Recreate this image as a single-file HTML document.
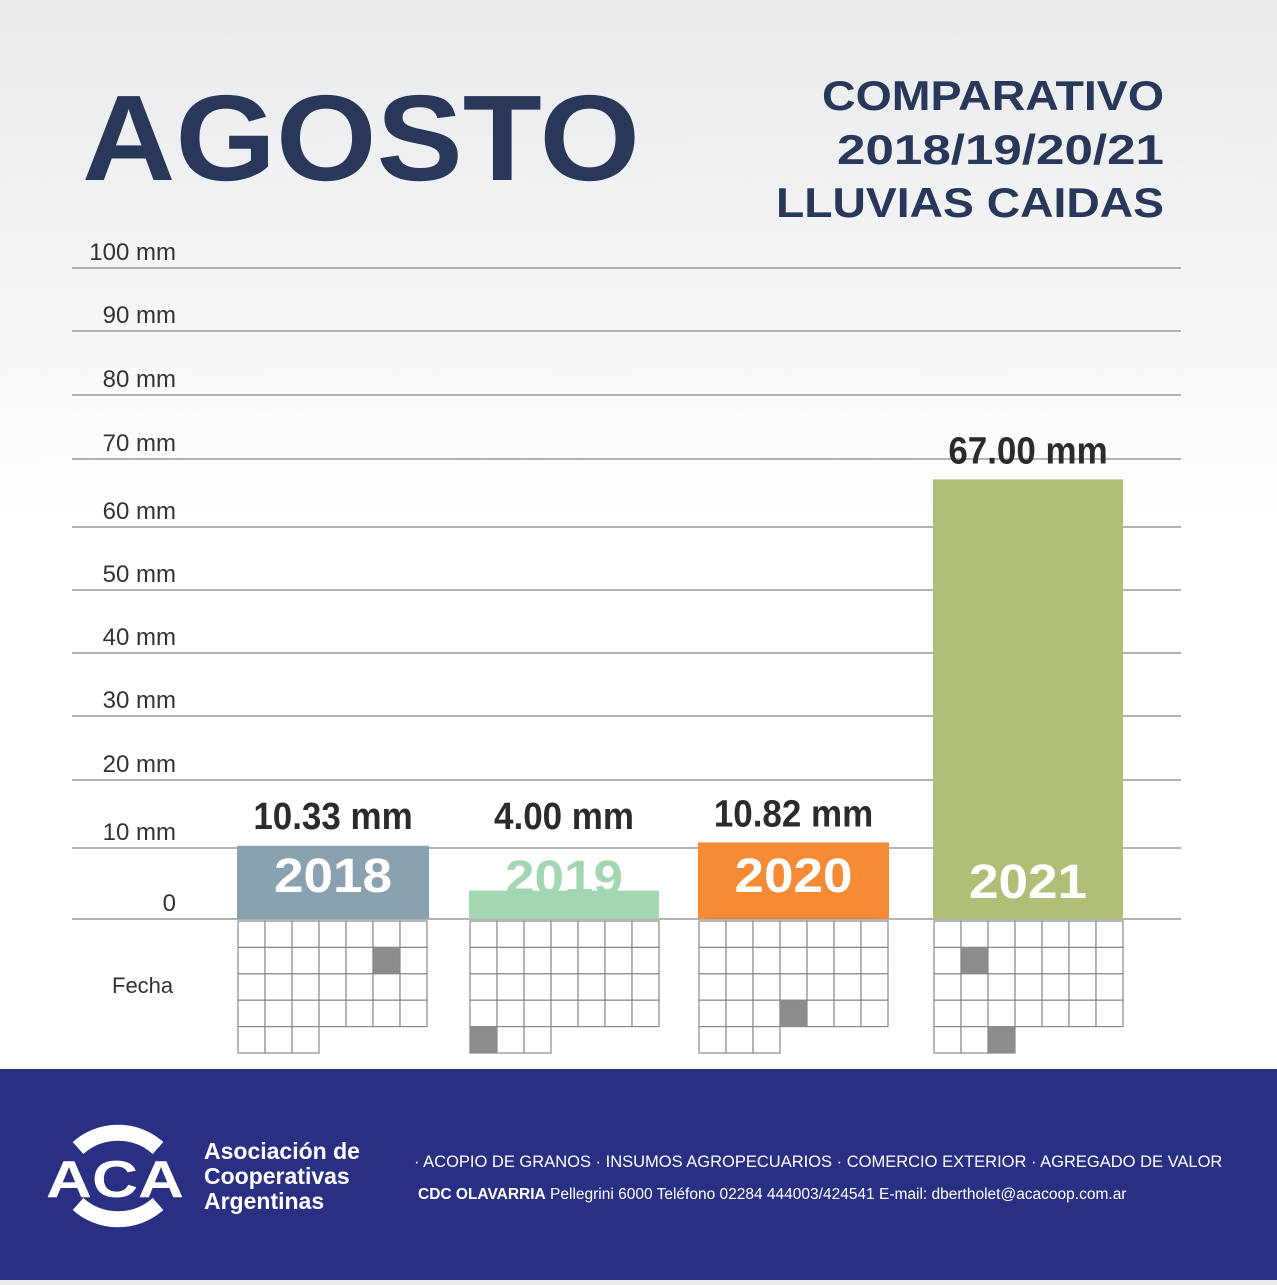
<!DOCTYPE html>
<html><head><meta charset="utf-8"><style>
html,body{margin:0;padding:0}
body{width:1277px;height:1280px;overflow:hidden;font-family:"Liberation Sans",sans-serif;background:linear-gradient(#e9eaec 0,#f6f6f7 300px,#fff 520px,#fff 100%)}
</style></head><body>
<svg id="chart" width="1277" height="1280" xmlns="http://www.w3.org/2000/svg">
<text x="82" y="180" font-family="Liberation Sans,sans-serif" font-weight="bold" font-size="122" fill="#28375a" textLength="558" lengthAdjust="spacingAndGlyphs">AGOSTO</text>
<g font-family="Liberation Sans,sans-serif" font-weight="bold" font-size="42" fill="#28375a">
<text x="822" y="110" textLength="342" lengthAdjust="spacingAndGlyphs">COMPARATIVO</text>
<text x="837" y="164" textLength="327" lengthAdjust="spacingAndGlyphs">2018/19/20/21</text>
<text x="776" y="217" textLength="388" lengthAdjust="spacingAndGlyphs">LLUVIAS CAIDAS</text>
</g>
<g id="grid"></g><g id="bars"></g><g id="cal"></g>
<text x="112" y="993" font-size="22" fill="#333">Fecha</text>
<rect x="0" y="1069" width="1277" height="211" fill="#292f83"/>
<g>
<path d="M78 1148 A60 60 0 0 1 158 1148" stroke="#fff" stroke-width="16" fill="none"/>
<path d="M78 1204 A60 60 0 0 0 158 1204" stroke="#fff" stroke-width="16" fill="none"/>
<text x="115" y="1197" font-size="52" font-weight="bold" fill="#fff" text-anchor="middle" textLength="138" lengthAdjust="spacingAndGlyphs">ACA</text>
</g>
<g font-size="23" font-weight="bold" fill="#fff">
<text x="204" y="1159">Asociación de</text><text x="204" y="1184">Cooperativas</text><text x="204" y="1209">Argentinas</text>
</g>
<text x="414" y="1167" font-size="16.5" fill="#fff">·  ACOPIO DE GRANOS  ·  INSUMOS AGROPECUARIOS  ·  COMERCIO EXTERIOR  ·  AGREGADO DE VALOR</text>
<text x="418" y="1199" font-size="15.5" fill="#fff"><tspan font-weight="bold">CDC OLAVARRIA</tspan> Pellegrini 6000 Teléfono 02284 444003/424541 E-mail: dbertholet@acacoop.com.ar</text>
</svg>
<script>
const tickValues=[0,10,20,30,40,50,60,70,80,90,100];
const tickLabels=["0","10 mm","20 mm","30 mm","40 mm","50 mm","60 mm","70 mm","80 mm","90 mm","100 mm"];
const years=["2018","2019","2020","2021"];
const rain=[10.33,4.00,10.82,67.00];
const valueLabels=["10.33 mm","4.00 mm","10.82 mm","67.00 mm"];
const rainDays=[[1,5],[4,0],[3,3],[1,1]];
const rainDays2=[null,null,null,[4,2]];
const NS="http://www.w3.org/2000/svg";
const tickY=[919,848,780,716,653,590,527,459,395,331,268];
function y(v){for(let i=0;i<tickValues.length-1;i++){if(v<=tickValues[i+1]){const t=(v-tickValues[i])/(tickValues[i+1]-tickValues[i]);return tickY[i]+t*(tickY[i+1]-tickY[i]);}}return tickY[tickY.length-1];}
const barX=[237,469,698,933],barW=[192,190,191,190];
const colors=["#8aa2b0","#a3d6b3","#f68b35","#b0bf78"];
const yearColors=["#fff","#a3d6b3","#fff","#fff"];
function mk(t,a,p){const e=document.createElementNS(NS,t);for(const k in a)e.setAttribute(k,a[k]);p.appendChild(e);return e;}
const grid=document.getElementById('grid');
tickValues.forEach((v,i)=>{
 const l=mk('line',{x1:72,x2:1181,y1:y(v),y2:y(v),stroke:'#9a9a9a','stroke-width':1.5},grid);
 
 
 const t=mk('text',{x:176,y:y(v)-8,'font-size':24,fill:'#333','text-anchor':'end'},grid);
 
 
 t.textContent=tickLabels[i];
});
const bars=document.getElementById('bars');
rain.forEach((v,i)=>{
 const top=y(v);
 const r=mk('rect',{x:barX[i],y:top,width:barW[i],height:919-top,fill:colors[i]},bars);
 
 
 const cx=barX[i]+barW[i]/2;
 const ly=Math.min(top-16,829);
 const lbl=mk('text',{x:cx,y:ly,'font-size':38,'font-weight':'bold',fill:'#2b2b2b','text-anchor':'middle',transform:`translate(${cx},0) scale(0.92,1) translate(${-cx},0)`},bars);
 
 
 lbl.textContent=valueLabels[i];
 const ty=i==3?898:i==1?894:892;
 const yl=mk('text',{x:cx-59,y:ty,'font-size':48,'font-weight':'bold',fill:yearColors[i],textLength:118,lengthAdjust:'spacingAndGlyphs'},bars);
 
 
 yl.textContent=years[i];
});
const cal=document.getElementById('cal');
const cw=27,ch=26.4;
years.forEach((yr,i)=>{
 const g=mk('g',{},cal);
 
 
 const x0=barX[i]+1;
 for(let r=0;r<5;r++){const n=r<4?7:3;for(let c=0;c<n;c++){
  const dark=(rainDays[i][0]==r&&rainDays[i][1]==c)||(rainDays2[i]&&rainDays2[i][0]==r&&rainDays2[i][1]==c);
  const cell=mk('rect',{x:x0+c*cw,y:921+r*ch,width:cw,height:ch,fill:dark?'#8c8c8c':'#fff',stroke:'#8a8a8a','stroke-width':1.2},g);
  
  
 }}
});
</script>
</body></html>
